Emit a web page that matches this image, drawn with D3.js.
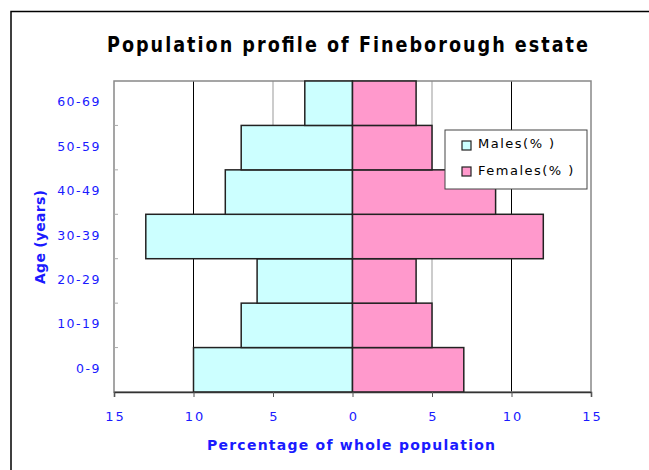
<!DOCTYPE html>
<html>
<head>
<meta charset="utf-8">
<script src="https://cdn.jsdelivr.net/npm/d3@7"></script>
<style>
body{margin:0;background:#fff;}
svg text{font-family:"DejaVu Sans",Verdana,sans-serif;}
</style>
</head>
<body>
<div id="chart"></div>
<script>
// data
var ages=["0-9","10-19","20-29","30-39","40-49","50-59","60-69"];
var males=[10,7,6,13,8,7,3];
var females=[7,5,4,12,9,5,4];
var xTicks=[-15,-10,-5,0,5,10,15];

var width=649, height=470;
var pLeft=114, pRight=591, pTop=81, pBottom=392;
var blue="#1a1aff";

var svg=d3.select('#chart').append('svg')
	.attr('width',width).attr('height',height);

// outer frame (top + left only)
svg.append('path').attr('d','M11,470V11.5H649')
	.attr('fill','none').attr('stroke','#000').attr('stroke-width',1.5);

var x=d3.scaleLinear().domain([-15,15]).range([pLeft,pRight]);
var y=d3.scaleBand().domain(ages.slice().reverse()).range([pTop,pBottom]).padding(0);

// gridlines
svg.selectAll('.grid').data([-10,-5,5,10]).enter().append('line')
	.attr('x1',d=>x(d)).attr('x2',d=>x(d))
	.attr('y1',pTop).attr('y2',pBottom)
	.attr('stroke',d=>Math.abs(d)===10?'#000':'#999')
	.attr('stroke-width',1);

// plot border
svg.append('rect').attr('x',pLeft).attr('y',pTop)
	.attr('width',pRight-pLeft).attr('height',pBottom-pTop)
	.attr('fill','none').attr('stroke','#888').attr('stroke-width',1.5);

// left axis small ticks at band edges
svg.selectAll('.ytick').data(ages.slice(1)).enter().append('line')
	.attr('x1',pLeft).attr('x2',pLeft+4)
	.attr('y1',d=>y(d)+y.bandwidth()).attr('y2',d=>y(d)+y.bandwidth())
	.attr('stroke','#aaa');

// bars
var rows=ages.map(function(a,i){return {age:a,m:males[i],f:females[i]};});

svg.selectAll('.male').data(rows).enter().append('rect')
	.attr('x',d=>x(-d.m)).attr('y',d=>y(d.age))
	.attr('width',d=>x(0)-x(-d.m)).attr('height',y.bandwidth())
	.attr('fill','#ccffff').attr('stroke','#222').attr('stroke-width',1.5);

svg.selectAll('.female').data(rows).enter().append('rect')
	.attr('x',x(0)).attr('y',d=>y(d.age))
	.attr('width',d=>x(d.f)-x(0)).attr('height',y.bandwidth())
	.attr('fill','#ff99cc').attr('stroke','#222').attr('stroke-width',1.5);

// x axis
var xAxis=svg.append('g').attr('transform','translate(0,'+pBottom+')')
	.call(d3.axisBottom(x).tickValues(xTicks).tickSize(5).tickFormat(d=>Math.abs(d)));
xAxis.select('.domain').attr('stroke','#333').attr('stroke-width',1.5);
xAxis.selectAll('.tick line').attr('stroke','#555');
xAxis.selectAll('.tick text').attr('fill',blue).attr('y',20)
	.attr('font-size','13px').attr('letter-spacing','2px').attr('dx','1px')
	.attr('font-family','"DejaVu Sans",Verdana,sans-serif');

// y labels
svg.selectAll('.ylab').data(ages).enter().append('text')
	.attr('x',101).attr('y',d=>y(d)+y.bandwidth()/2+3)
	.attr('text-anchor','end').attr('fill',blue)
	.attr('font-size','12.5px').attr('letter-spacing','1.5px')
	.text(d=>d);

// title - narrow glyphs, wide spacing
var sx=0.8;
svg.append('text').attr('transform','translate(107,52) scale('+sx+',1)')
	.attr('font-size','22px').attr('font-weight','bold').attr('fill','#000')
	.attr('font-family','"Liberation Sans",Arial,sans-serif')
	.attr('textLength',481/sx).attr('lengthAdjust','spacing')
	.text('Population profile of Fineborough estate');

// axis titles
svg.append('text').attr('x',207).attr('y',450)
	.attr('font-size','14px').attr('font-weight','bold').attr('fill',blue)
	.attr('textLength',288).attr('lengthAdjust','spacing')
	.text('Percentage of whole population');

svg.append('text').attr('transform','translate(45,284) rotate(-90)')
	.attr('font-size','14px').attr('font-weight','bold').attr('fill',blue)
	.attr('textLength',94).attr('lengthAdjust','spacing')
	.text('Age (years)');

// legend
var lg=svg.append('g');
lg.append('rect').attr('x',445).attr('y',130).attr('width',142).attr('height',59)
	.attr('fill','#fff').attr('stroke','#444').attr('stroke-width',1);
var legendItems=[{name:'Males(% )',color:'#ccffff'},{name:'Females(% )',color:'#ff99cc'}];
legendItems.forEach(function(it,i){
	lg.append('rect').attr('x',462).attr('y',141+i*26).attr('width',9).attr('height',9)
		.attr('fill',it.color).attr('stroke','#222').attr('stroke-width',1.2);
	lg.append('text').attr('x',478).attr('y',148+i*27)
		.attr('font-size','13px').attr('letter-spacing','1.5px').attr('fill','#000')
		.text(it.name);
});
</script>
</body>
</html>
